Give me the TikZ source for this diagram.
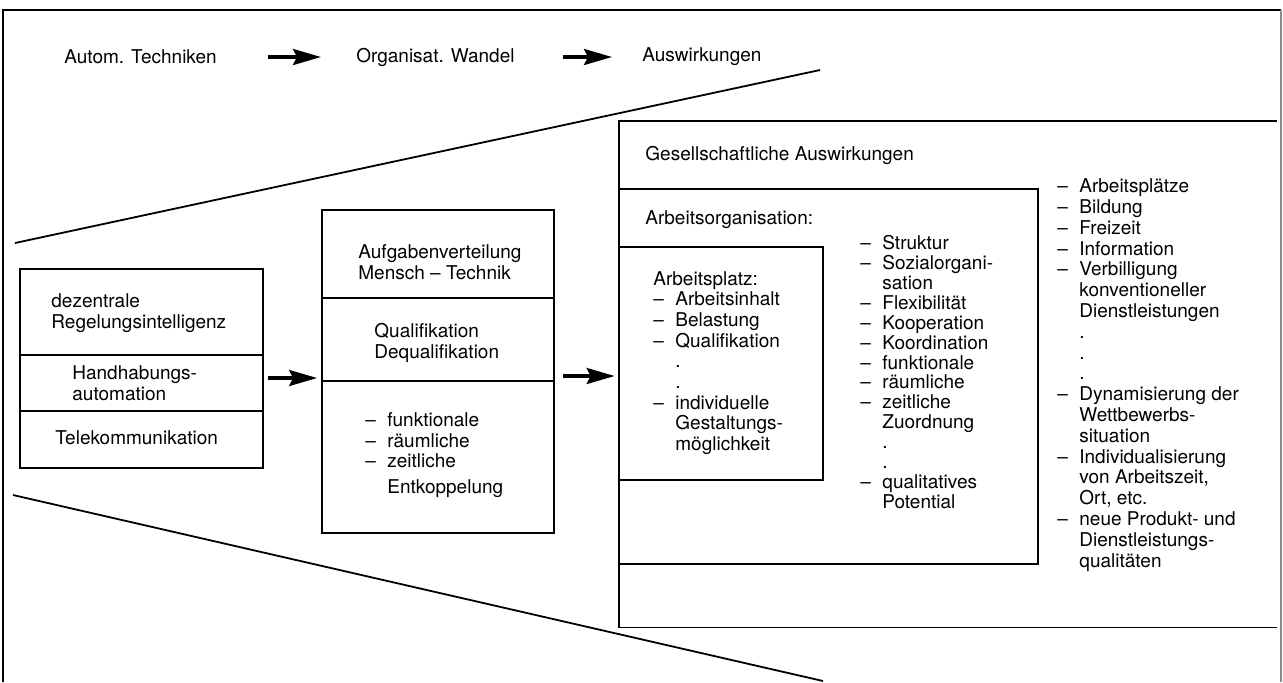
\documentclass[tikz,border=0pt]{standalone}
\usepackage{fontspec}
\setmainfont{TeX Gyre Heros}
\usetikzlibrary{arrows.meta,fit}

\newcommand{\dsh}{\makebox[11pt][l]{--}}
\newcommand{\ind}{\hspace*{11pt}}

\tikzset{
  box/.style={draw, line width=0.9pt, inner sep=0pt},
  rule/.style={line width=0.9pt},
  txt/.style={inner sep=0pt, anchor=west, align=left},
  bigarrow/.style={-{Stealth[length=14pt,width=8pt,inset=2pt]}, line width=1.6pt},
}

\begin{document}
\begin{tikzpicture}[x=0.5pt, y=-0.5pt, font=\fontsize{9.5pt}{10.35pt}\selectfont]

	\useasboundingbox (0,0) rectangle (1283,682);

	% frame
	\draw[rule] (3,682) -- (3,10) -- (1281,10);
	\draw[line width=0.6pt, black!45] (1281,10) -- (1281,682);

	% header
	\node[txt] (tech) at (64,57) {Autom. Techniken};
	\node[txt] (wandel) at (356,57) {Organisat. Wandel};
	\node[txt] (ausw) at (642,57) {Auswirkungen};
	\draw[bigarrow, shorten <=25.5pt, shorten >=17.5pt] (tech) -- (wandel);
	\draw[bigarrow, shorten <=24pt, shorten >=15pt] (wandel) -- (ausw);

	% perspective lines
	\coordinate (ptl) at (15,243);
	\coordinate (ptr) at (820,70);
	\coordinate (pbl) at (13,495);
	\coordinate (pbr) at (823,681);
	\draw[rule] (ptl) -- (ptr);
	\draw[rule] (pbl) -- (pbr);

	% automation techniques
	\node[box, fit={(20,269) (263,468)}] (techbox) {};
	\draw[rule] (techbox.west |- 0,355) -- (techbox.east |- 0,355);
	\draw[rule] (techbox.west |- 0,411) -- (techbox.east |- 0,411);
	\node[txt] (regel) at (51,313) {dezentrale\\Regelungsintelligenz};
	\node[txt] (handh) at (72,383) {Handhabungs-\\automation};
	\node[txt] (tele) at (55,438) {Telekommunikation};

	% organisational change
	\node[box, fit={(322,210) (554,533)}] (orgbox) {};
	\draw[rule] (orgbox.west |- 0,298) -- (orgbox.east |- 0,298);
	\draw[rule] (orgbox.west |- 0,381) -- (orgbox.east |- 0,381);
	\node[txt] (aufg) at (358,262) {Aufgabenverteilung\\Mensch -- Technik};
	\node[txt] (quali) at (374,343) {Qualifikation\\Dequalifikation};
	\node[txt] (entk) at (365,455) {\dsh funktionale\\\dsh r\"aumliche\\\dsh zeitliche\\[2.5pt]\ind Entkoppelung};

	% effects
	\node[inner sep=0pt, fit={(619,121) (1277,627)}] (effbox) {};
	\draw[rule] (effbox.north east) -- (effbox.north west) -- (effbox.south west) -- (effbox.south east);
	\node[txt] (gesell) at (645,155) {Gesellschaftliche Auswirkungen};

	\node[box, fit={(619,189) (1038,564)}] (arborg) {};
	\node[txt] (arborgtxt) at (645,220) {Arbeitsorganisation:};

	\node[box, fit={(619,247) (823,480)}] (platzbox) {};
	\node[txt] (platz) at (653,363) {Arbeitsplatz:\\\dsh Arbeitsinhalt\\\dsh Belastung\\\dsh Qualifikation\\\ind.\\\ind.\\\dsh individuelle\\\ind Gestaltungs-\\\ind m\"oglichkeit};

	\node[txt, font=\fontsize{9.5pt}{9.95pt}\selectfont] (struk) at (860,372) {\dsh Struktur\\\dsh Sozialorgani-\\\ind sation\\\dsh Flexibilit\"at\\\dsh Kooperation\\\dsh Koordination\\\dsh funktionale\\\dsh r\"aumliche\\\dsh zeitliche\\\ind Zuordnung\\\ind.\\\ind.\\\dsh qualitatives\\\ind Potential};

	\node[txt, font=\fontsize{9.5pt}{10.4pt}\selectfont] (gesliste) at (1057,375) {\dsh Arbeitspl\"atze\\\dsh Bildung\\\dsh Freizeit\\\dsh Information\\\dsh Verbilligung\\\ind konventioneller\\\ind Dienstleistungen\\\ind.\\\ind.\\\ind.\\\dsh Dynamisierung der\\\ind Wettbewerbs-\\\ind situation\\\dsh Individualisierung\\\ind von Arbeitszeit,\\\ind Ort, etc.\\\dsh neue Produkt- und\\\ind Dienstleistungs-\\\ind qualit\"aten};

	% flow
	\draw[bigarrow, shorten <=2pt, shorten >=2pt] (techbox.east |- 0,378) -- (orgbox.west |- 0,378);
	\draw[bigarrow, shorten <=4pt, shorten >=2pt] (orgbox.east |- 0,376) -- (effbox.west |- 0,376);

\end{tikzpicture}
\end{document}
